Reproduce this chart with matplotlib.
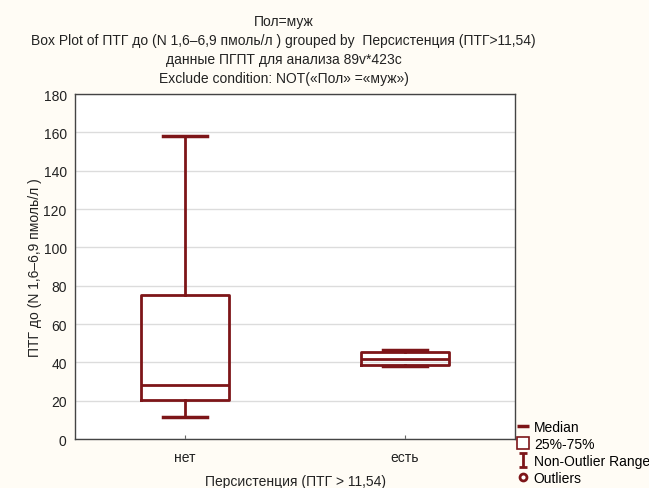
import matplotlib
matplotlib.use("Agg")
import matplotlib.pyplot as plt
from matplotlib.lines import Line2D
from matplotlib.path import Path

plt.rcParams['font.family'] = ['Liberation Sans', 'DejaVu Sans']

# box stats
groups = ['нет', 'есть']
whislo = [11.5, 38.0]
q1 = [20.3, 38.7]
med = [28.2, 41.7]
q3 = [75.1, 45.5]
whishi = [158.0, 46.5]

title_lines = ['Пол=муж',
               'Box Plot of ПТГ до (N 1,6–6,9 пмоль/л ) grouped by  Персистенция (ПТГ>11,54)',
               'данные ПГПТ для анализа 89v*423c',
               'Exclude condition: NOT(«Пол» =«муж»)']

red = '#7d1518'
bg = '#fffcf5'

fig = plt.figure(figsize=(6.49, 4.89), dpi=100, facecolor=bg)
ax = fig.add_axes([0.1156, 0.1002, 0.678, 0.7055])
ax.set_facecolor('white')

stats = []
for i, g in enumerate(groups):
    stats.append(dict(label=g, whislo=whislo[i], q1=q1[i], med=med[i],
                      q3=q3[i], whishi=whishi[i], fliers=[]))

pos = list(range(len(groups)))
ax.bxp(stats, positions=pos, widths=0.4, showfliers=False,
       boxprops=dict(color=red, linewidth=2),
       medianprops=dict(color=red, linewidth=2),
       whiskerprops=dict(color=red, linewidth=2),
       capprops=dict(color=red, linewidth=2.5),
       capwidths=0.2)

ax.set_xlim(-0.5, 1.5)
ax.set_ylim(0, 180)
ax.set_yticks(range(0, 181, 20))
ax.yaxis.grid(True, color='#dcdcdc', linewidth=1)
ax.set_axisbelow(True)
for s in ax.spines.values():
    s.set_color('#444444')
    s.set_linewidth(1)
ax.tick_params(axis='both', direction='in', length=3, color='#666666',
               labelsize=10, labelcolor='#222222')
ax.tick_params(axis='y', length=0, pad=6)
ax.tick_params(axis='x', pad=8)

ax.set_ylabel('ПТГ до (N 1,6–6,9 пмоль/л )', fontsize=10, color='#222222', labelpad=1)
ax.set_xlabel('Персистенция (ПТГ > 11,54)', fontsize=10, color='#222222', labelpad=7)

y0 = 1 - 22 / 489
for k, t in enumerate(title_lines):
    fig.text(0.437, y0 - k * 19 / 489, t, ha='center', va='center',
             fontsize=10, color='#222222')

# I-shaped marker for the whisker range
i_mark = Path([(-0.6, 1), (0.6, 1), (0, 1), (0, -1), (-0.6, -1), (0.6, -1)],
              [Path.MOVETO, Path.LINETO, Path.MOVETO, Path.LINETO, Path.MOVETO, Path.LINETO])

handles = [
    Line2D([], [], color=red, marker='_', markersize=9, markeredgewidth=2.5, linestyle='none'),
    Line2D([], [], color=red, marker='s', markersize=9, markerfacecolor='white',
           markeredgewidth=1.2, linestyle='none'),
    Line2D([], [], color=red, marker=i_mark, markersize=10, markeredgewidth=2, linestyle='none'),
    Line2D([], [], color=red, marker='o', markersize=5, markerfacecolor='white',
           markeredgewidth=2, linestyle='none'),
]
labels = ['Median', '25%-75%', 'Non-Outlier Range', 'Outliers']
fig.legend(handles, labels, loc='lower left', bbox_to_anchor=(0.784, -0.01),
           frameon=False, fontsize=10, handlelength=0.8, handletextpad=0.4,
           labelspacing=0.2, borderaxespad=0.2)

fig.savefig('out.png', dpi=100, facecolor=bg)
